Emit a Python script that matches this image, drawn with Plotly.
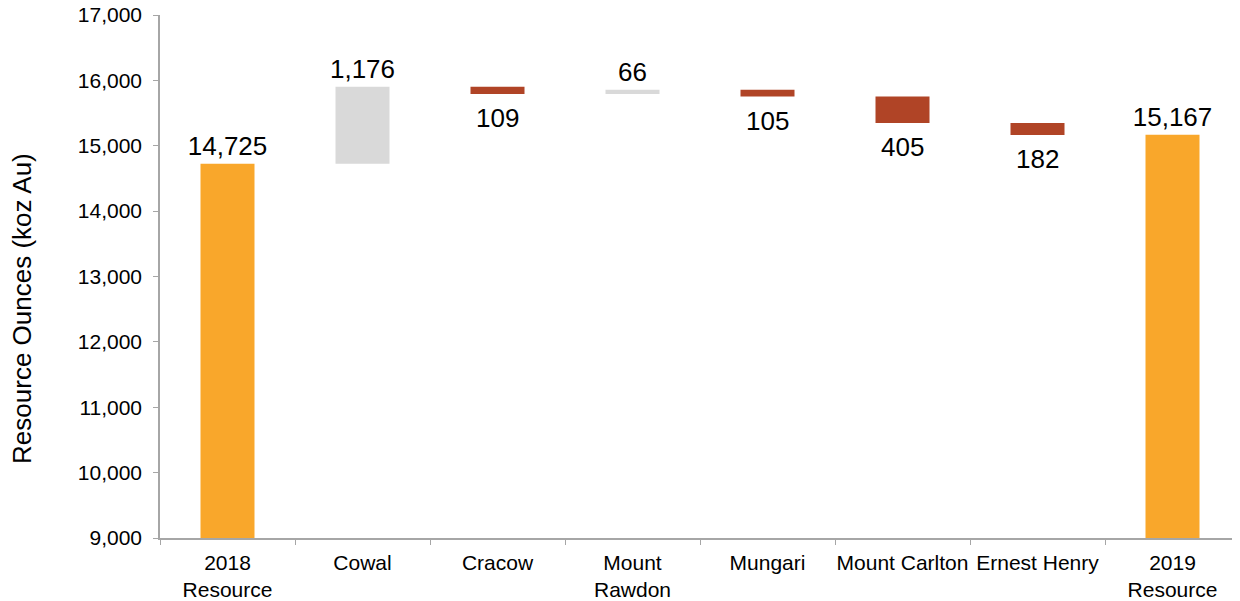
import plotly.graph_objects as go

categories = ["2018<br>Resource", "Cowal", "Cracow", "Mount<br>Rawdon", "Mungari",
              "Mount Carlton", "Ernest Henry", "2019<br>Resource"]
start_total = 14725
changes = [1176, -109, 66, -105, -405, -182]
end_total = 15167

ORANGE = "#F9A72B"
GREY = "#D9D9D9"
RED = "#B04426"
FONT = "Liberation Sans, Arial, sans-serif"

ys, bases, colors, texts = [], [], [], []
below_labels = []
ys.append(start_total); bases.append(0); colors.append(ORANGE); texts.append(f"{start_total:,}")
level = start_total
for cat, c in zip(categories[1:-1], changes):
    ys.append(c)
    bases.append(level)
    if c > 0:
        colors.append(GREY)
        texts.append(f"{c:,}")
    else:
        colors.append(RED)
        texts.append("")
        below_labels.append((cat, level + c, f"{abs(c):,}"))
    level += c
ys.append(end_total); bases.append(0); colors.append(ORANGE); texts.append(f"{end_total:,}")

fig = go.Figure(go.Bar(
    x=categories, y=ys, base=bases,
    marker=dict(color=colors, line=dict(width=0)),
    text=texts, textposition="outside", constraintext="none",
    textfont=dict(size=26, color="#000000", family=FONT),
    cliponaxis=False, width=0.4,
))

annotations = [dict(
    text="Resource Ounces (koz Au)", textangle=-90,
    xref="paper", yref="paper", x=0, y=0.438,
    xanchor="center", yanchor="middle", xshift=-138, showarrow=False,
    font=dict(size=26, color="#000000", family=FONT),
)]
for cat, yb, t in below_labels:
    annotations.append(dict(
        text=t, x=cat, y=yb, xref="x", yref="y",
        xanchor="center", yanchor="top", yshift=-7, showarrow=False,
        font=dict(size=26, color="#000000", family=FONT),
    ))

fig.update_layout(
    width=1232, height=593,
    margin=dict(l=152, r=0, t=7, b=63, autoexpand=False),
    paper_bgcolor="white", plot_bgcolor="white",
    font=dict(family=FONT, size=21, color="#000000"),
    showlegend=False,
    annotations=annotations,
)
fig.update_yaxes(
    range=[9000, 17000], dtick=1000, tickformat=",",
    showgrid=False, zeroline=False, automargin=False,
    showline=True, linecolor="#A6A6A6", linewidth=1.5,
    ticks="outside", ticklen=5, tickcolor="#A6A6A6",
    tickfont=dict(size=21), ticklabelstandoff=7, ticklabeloverflow="allow",
)
fig.update_xaxes(
    showgrid=False, zeroline=False, automargin=False, tickangle=0,
    showline=True, linecolor="#A6A6A6", linewidth=1.5,
    ticks="outside", ticklen=5, tickcolor="#A6A6A6", tickson="boundaries",
    tickfont=dict(size=21), ticklabelstandoff=5, ticklabeloverflow="allow",
)

fig.write_html("out.html")
